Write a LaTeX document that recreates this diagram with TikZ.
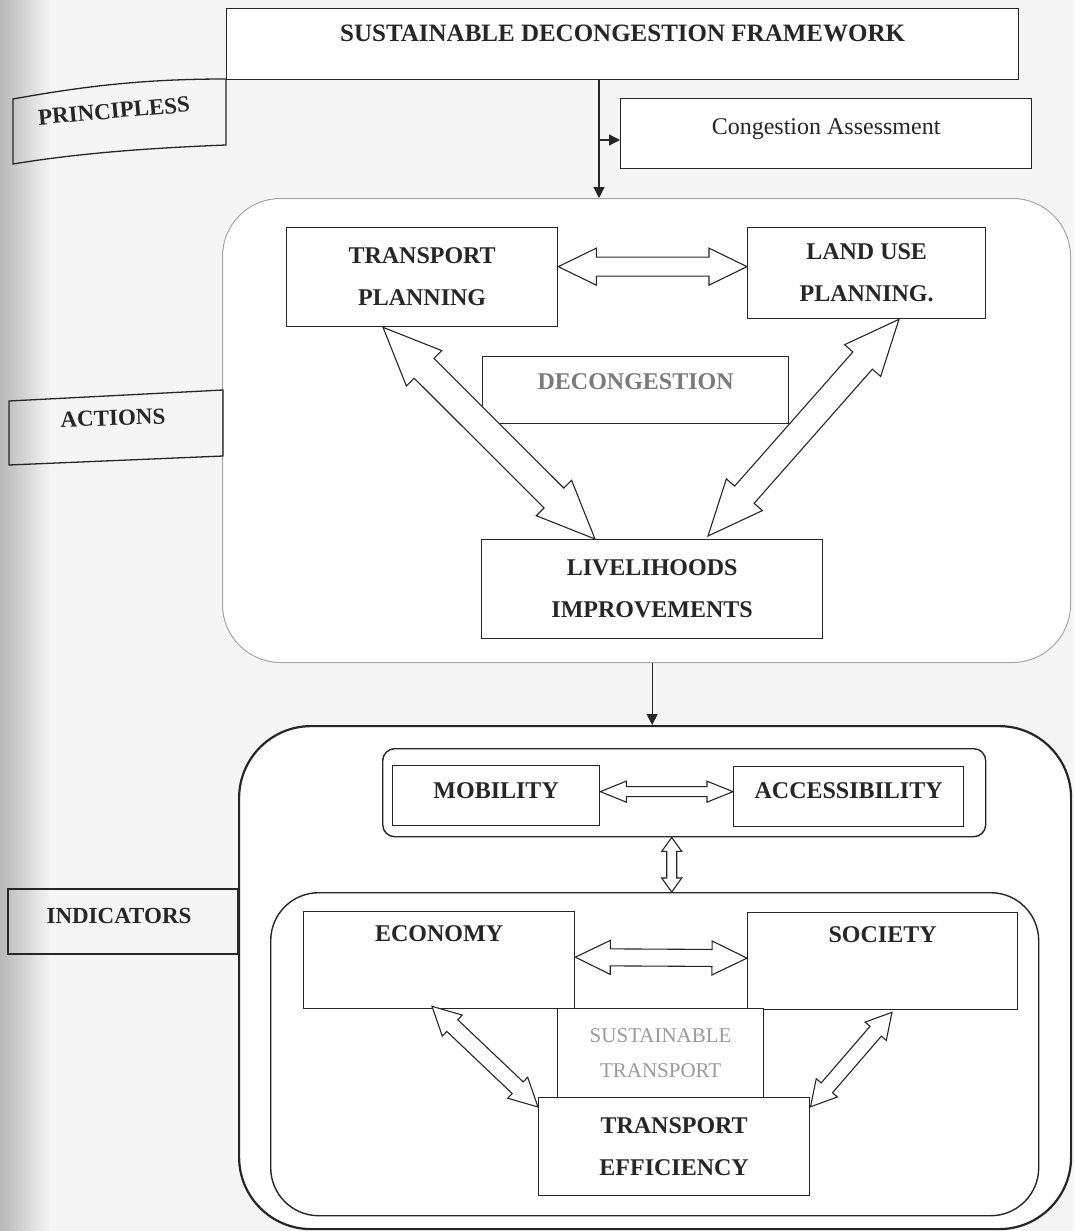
\documentclass[tikz,border=0pt]{standalone}
\usepackage{fontspec}
\setmainfont{Liberation Serif}
\usetikzlibrary{arrows.meta,calc}

\definecolor{ink}{HTML}{262626}
\definecolor{pale}{HTML}{A6A6A6}
\definecolor{fade}{HTML}{7A7A7A}
\definecolor{fainter}{HTML}{9A9A9A}

\tikzset{
  box/.style={draw=ink, line width=1.3pt, fill=white, inner sep=0pt, anchor=north west,
    font=\fontsize{24}{42}\selectfont\bfseries, align=center, text=ink},
  group/.style={draw=ink, line width=1.4pt, fill=white, inner sep=0pt, anchor=north west, rounded corners=#1},
  tag/.style={draw=ink, line width=1.3pt},
  tagtext/.style={font=\fontsize{23}{26}\selectfont\bfseries, text=ink},
  hollow/.style={draw=ink, line width=1.1pt, fill=white, line join=miter},
}

% hollow double arrow: from, to, shaft half width, head half width, head length
\newcommand{\twinarrow}[5]{%
  \draw[hollow] let \p1=(#1), \p2=(#2), \n1={atan2(\y2-\y1,\x2-\x1)}, \n2={veclen(\x2-\x1,\y2-\y1)} in
    [shift={(\p1)}, rotate=\n1]
    (0pt,0pt) -- (#5,#4) -- (#5,#3) -- (\n2-#5,#3) -- (\n2-#5,#4) -- (\n2,0pt)
    -- (\n2-#5,-#4) -- (\n2-#5,-#3) -- (#5,-#3) -- (#5,-#4) -- cycle;}

\begin{document}
\begin{tikzpicture}[x=1pt, y=-1pt, >={Triangle[length=11pt,width=11pt]}]
\useasboundingbox (0,0) rectangle (1074,1231);
\fill[black!4] (0,0) rectangle (1074,1231);
\shade[left color=black!28, right color=black!4] (0,0) rectangle (50,1231);

% principles
\node[box, minimum width=792pt, text height=33pt, text depth=38pt,
  font=\fontsize{25}{30}\selectfont\bfseries] (frame) at (226,8) {SUSTAINABLE DECONGESTION FRAMEWORK};
\draw[tag] (13,99) .. controls (90,85) and (150,79) .. (226,79) -- (226,145)
  .. controls (150,148) and (80,153) .. (13,164) -- cycle;
\node[tagtext, rotate=5] (principles) at (114,111) {PRINCIPLESS};
\node[box, minimum width=411pt, text height=36pt, text depth=34pt,
  font=\fontsize{24}{28}\selectfont] (congest) at (620,98) {Congestion Assessment};

% actions
\node[group=58pt, draw=pale, line width=1pt, minimum width=848pt, minimum height=464pt] (actions) at (222,198) {};
\draw[tag] (9,401) -- (223,390) -- (223,456) -- (9,465) -- cycle;
\node[tagtext, rotate=2] (actlabel) at (113,418) {ACTIONS};

\node[box, minimum width=271pt, minimum height=99pt] (tp) at (286,227) {TRANSPORT\\PLANNING};
\node[box, minimum width=238pt, minimum height=91pt] (lu) at (747,227) {LAND USE\\PLANNING.};
\node[box, minimum width=306pt, text height=33pt, text depth=34pt, text=fade] (decong) at (482,356) {DECONGESTION};
\node[box, minimum width=341pt, minimum height=99pt] (liv) at (481,539) {LIVELIHOODS\\IMPROVEMENTS};

\twinarrow{$(tp.east)+(0,-10.5)$}{$(lu.west)+(0,-6.5)$}{9.5pt}{18.5pt}{38pt}
\twinarrow{$(tp.south west)+(97,0)$}{$(liv.north west)+(114,0)$}{14pt}{25pt}{58pt}
\twinarrow{$(lu.south west)+(152,0)$}{$(liv.north west)+(227,-3)$}{13pt}{24pt}{55pt}

% indicators
\node[group=72pt, line width=2.2pt, minimum width=832pt, minimum height=503pt] (indic) at (238,725) {};
\draw[tag] (8,889) rectangle (238,954);
\node[tagtext] (indlabel) at (119,916) {INDICATORS};

\node[group=12pt, minimum width=603pt, minimum height=88pt] (pair) at (382,748) {};
\node[box, minimum width=207pt, text height=33pt, text depth=27pt] (mob) at (392,765) {MOBILITY};
\node[box, minimum width=230pt, text height=32pt, text depth=28pt] (acc) at (733,766) {ACCESSIBILITY};

\node[group=48pt, minimum width=768pt, minimum height=323pt] (pillars) at (270,892) {};
\node[box, minimum width=271pt, text height=30pt, text depth=67pt] (eco) at (303,911) {ECONOMY};
\node[box, minimum width=270pt, text height=30pt, text depth=67pt] (soc) at (747,912) {SOCIETY};
\node[box, minimum width=206pt, minimum height=89pt, text=fainter,
  font=\fontsize{21}{35}\selectfont] (sust) at (557,1008) {SUSTAINABLE\\TRANSPORT};
\node[box, minimum width=271pt, minimum height=98pt] (eff) at (538,1097) {TRANSPORT\\EFFICIENCY};

\twinarrow{$(mob.east)+(0,-4)$}{$(acc.west)+(0,-5)$}{5pt}{10.5pt}{26pt}
\twinarrow{$(pair.south)+(-12.5,0)$}{$(pair.south |- pillars.north)+(-12.5,0)$}{5pt}{10pt}{14pt}
\twinarrow{$(eco.east)+(0,-3)$}{$(soc.west)+(0,-3)$}{8.5pt}{17pt}{35pt}
\twinarrow{$(eco.south west)+(129,-3)$}{$(eff.north west)+(0,10)$}{8pt}{14.5pt}{28pt}
\twinarrow{$(soc.south west)+(145,2)$}{$(eff.north east)+(0,10)$}{7.5pt}{14pt}{25pt}

% flow
\coordinate (split) at (599,140);
\draw[ink, line width=1.3pt, ->] (split |- frame.south) -- (split |- actions.north);
\draw[ink, line width=1.3pt, ->] (split) -- (split -| congest.west);
\draw[ink, line width=1.3pt, ->] (liv.south |- actions.south) -- (liv.south |- indic.north);
\end{tikzpicture}
\end{document}
